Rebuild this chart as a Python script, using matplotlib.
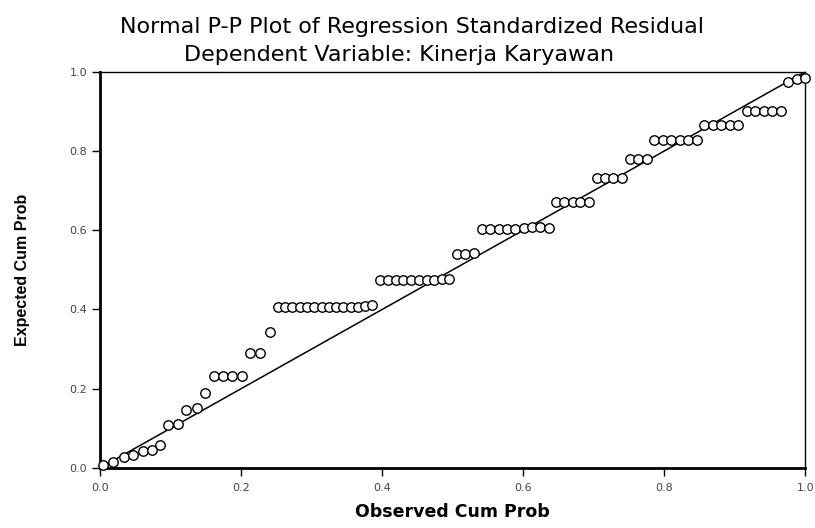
import matplotlib
matplotlib.use('Agg')
import matplotlib.pyplot as plt

# observed / expected cumulative probabilities
obs_cum = [0.004, 0.018, 0.033, 0.047, 0.061, 0.074, 0.085, 0.096, 0.110, 0.122,
           0.137, 0.149, 0.161, 0.174, 0.187, 0.201, 0.213, 0.227, 0.241,
           0.252, 0.262, 0.272, 0.283, 0.293, 0.303, 0.314, 0.324, 0.334, 0.345,
           0.355, 0.365, 0.376, 0.386,
           0.397, 0.408, 0.419, 0.430, 0.441, 0.452, 0.463, 0.474, 0.485, 0.495,
           0.506, 0.518, 0.530,
           0.541, 0.553, 0.565, 0.577, 0.589, 0.601, 0.613, 0.624, 0.636,
           0.647, 0.658, 0.670, 0.681, 0.693,
           0.704, 0.716, 0.728, 0.740,
           0.751, 0.763, 0.775,
           0.786, 0.798, 0.810, 0.822, 0.834, 0.846,
           0.857, 0.869, 0.881, 0.893, 0.905,
           0.917, 0.929, 0.941, 0.953, 0.965,
           0.976, 0.988, 1.000]
exp_cum = [0.008, 0.014, 0.027, 0.033, 0.042, 0.045, 0.058, 0.109, 0.110, 0.147,
           0.150, 0.188, 0.233, 0.233, 0.233, 0.233, 0.289, 0.289, 0.343,
           0.405, 0.405, 0.405, 0.405, 0.405, 0.405, 0.405, 0.405, 0.405, 0.405,
           0.405, 0.405, 0.408, 0.410,
           0.474, 0.474, 0.474, 0.474, 0.474, 0.474, 0.474, 0.474, 0.476, 0.478,
           0.540, 0.540, 0.542,
           0.603, 0.603, 0.603, 0.603, 0.603, 0.606, 0.608, 0.608, 0.606,
           0.672, 0.672, 0.672, 0.672, 0.672,
           0.731, 0.731, 0.731, 0.731,
           0.779, 0.779, 0.779,
           0.829, 0.829, 0.829, 0.829, 0.829, 0.829,
           0.866, 0.866, 0.866, 0.866, 0.866,
           0.900, 0.900, 0.900, 0.900, 0.900,
           0.975, 0.982, 0.985]
ticks = [0.0, 0.2, 0.4, 0.6, 0.8, 1.0]
title1 = "Normal P-P Plot of Regression Standardized Residual"
title2 = "Dependent Variable: Kinerja Karyawan"

fig = plt.figure(figsize=(8.15, 5.28), dpi=100)
ax = fig.add_axes([0.123, 0.114, 0.865, 0.750])

ax.plot([0, 1], [0, 1], color='black', lw=1.1, zorder=2)
ax.plot(obs_cum, exp_cum, 'o', mfc='white', mec='black', mew=1.0, ms=6.8, zorder=3,
        clip_on=False)

ax.set_xlim(0, 1)
ax.set_ylim(0, 1)
ax.set_xticks(ticks)
ax.set_yticks(ticks)
ax.set_xticklabels([f"{t:.1f}" for t in ticks])
ax.set_yticklabels([f"{t:.1f}" for t in ticks])
ax.tick_params(direction='out', length=6, width=1, labelsize=8, colors='black',
               labelcolor='#444444')
ax.tick_params(axis='x', pad=5)
for side in ['left', 'bottom']:
    ax.spines[side].set_linewidth(2.0)
for side in ['top', 'right']:
    ax.spines[side].set_linewidth(1.0)

ax.set_xlabel("Observed Cum Prob", fontsize=12.5, fontweight='bold',
              family=['DejaVu Sans'], labelpad=7)
ax.set_ylabel("Expected Cum Prob", fontsize=11.5, fontweight='bold',
              family=['Liberation Sans Narrow', 'Liberation Sans', 'DejaVu Sans'], labelpad=28)

fig.text(0.505, 0.948, title1, ha='center', va='center', fontsize=16,
         family=['DejaVu Sans'])
fig.text(0.49, 0.896, title2, ha='center', va='center', fontsize=16,
         family=['DejaVu Sans'])

plt.savefig('out.png', dpi=100)
plt.close()
